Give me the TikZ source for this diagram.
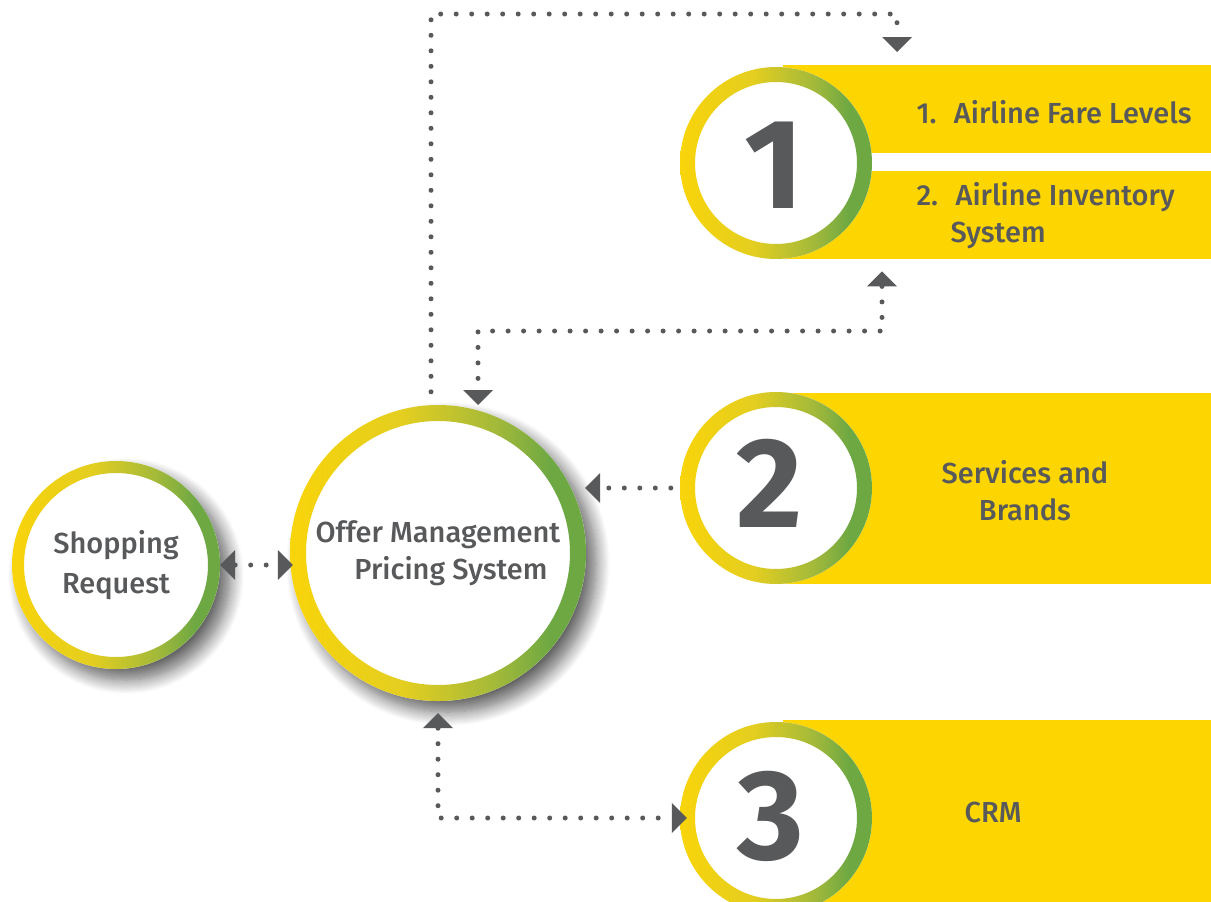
\documentclass[tikz,border=0pt]{standalone}
\usepackage{fontspec}
\setmainfont{Fira Sans Medium}
\newfontfamily\numfont{Fira Sans}
\usetikzlibrary{arrows.meta,shadows.blur,calc}

\definecolor{txtgray}{HTML}{58595B}
\definecolor{band}{HTML}{FDD500}
\definecolor{ringY}{HTML}{F8D40A}
\definecolor{ringY2}{HTML}{E4CE20}
\definecolor{ringM}{HTML}{A2B93A}
\definecolor{ringG}{HTML}{6EA843}

% yellow on the left, turning green towards the right edge
\pgfdeclarehorizontalshading{ringshade}{100bp}{%
  color(0bp)=(ringY); color(25bp)=(ringY); color(44bp)=(ringY2);
  color(60bp)=(ringM); color(69bp)=(ringG); color(100bp)=(ringG)}

\tikzset{
  ring/.style 2 args={circle, inner sep=0pt, minimum size=#1, fill=white,
    text=txtgray,
    path picture={\shade[shading=ringshade, even odd rule]
      (path picture bounding box.south west) rectangle (path picture bounding box.north east)
      (path picture bounding box.center) circle[radius=#1/2-#2];}},
  softshadow/.style={blur shadow={shadow xshift=10pt, shadow yshift=-11pt,
    shadow blur radius=14pt, shadow blur steps=14, shadow opacity=62}},
  bandbox/.style={rectangle, fill=band, inner sep=0pt, anchor=north west},
  label/.style={text=txtgray, font=\fontsize{29}{37}\selectfont},
  bignum/.style={text=txtgray, font=\numfont\bfseries\fontsize{128}{128}\selectfont},
  dotline/.style={draw=txtgray, line width=5pt, line cap=round,
    dash pattern=on 0pt off 15.5pt},
  >={Triangle[width=30pt,length=15pt,line width=0pt]},
}

\begin{document}
\begin{tikzpicture}[x=1pt,y=-1pt]
\useasboundingbox (0,0) rectangle (1211,902);
\clip (0,0) rectangle (1211,902);

% yellow bands behind the numbered circles
\node[bandbox, minimum width=428pt, minimum height=88pt] (fare) at (783,65) {};
\node[bandbox, minimum width=428pt, minimum height=88pt] (inv) at (783,171) {};
\node[bandbox, minimum width=428pt, minimum height=191pt] (serv) at (783,393) {};
\node[bandbox, minimum width=428pt, minimum height=200pt] (crm) at (783,720) {};

% numbered circles
\node[ring={192pt}{15pt}] (c1) at (776,163) {};
\node[ring={192pt}{15pt}] (c2) at (776,488) {};
\node[ring={192pt}{15pt}] (c3) at (776,818) {};
\node[bignum] at (774,165) {1};
\node[bignum] at (770,483) {2};
\node[bignum] at (771,816) {3};

% band texts
\node[label, anchor=west] (t1) at (913,112) {1.\hspace{0.6em}Airline Fare Levels};
\node[label, anchor=north west, align=left] (t2) at (913,179)
  {2.\hspace{0.6em}Airline Inventory\\\hspace*{34pt}System};
\node[label, align=center] (t3) at (1025,491) {Services and\\Brands};
\node[label] (t4) at (993,812) {CRM};

% main circles
\node[ring={208pt}{12pt}, softshadow, label, align=center,
  font=\fontsize{29}{40}\selectfont] (shop) at (116,565) {Shopping\\Request};
\node[ring={296pt}{16pt}, softshadow, label, align=center] (omp) at (438,553)
  {Offer Management\\\hspace*{26pt}Pricing System};

% connectors
\coordinate (a0) at ([xshift=-7pt,yshift=13pt]omp.north);
\coordinate (a1) at ([xshift=114pt,yshift=13pt]fare.north west);
\draw[dotline, ->] (a0) |- (897,14) -- (a1);

\coordinate (b1) at ([xshift=99pt,yshift=-12pt]inv.south west);
\coordinate (b2) at (478,405);
\draw[dotline, <->] (b1) |- (478,331) -- (b2);

\draw[dotline, ->] ([xshift=-9pt]c2.west) -- (585,488);

\draw[dotline, <->] (shop.east) -- ([xshift=3pt]omp.west |- shop.east);

\coordinate (e0) at ([yshift=-12pt]omp.south);
\draw[dotline, <->] (e0) |- ([xshift=7pt]c3.west);
\end{tikzpicture}
\end{document}
